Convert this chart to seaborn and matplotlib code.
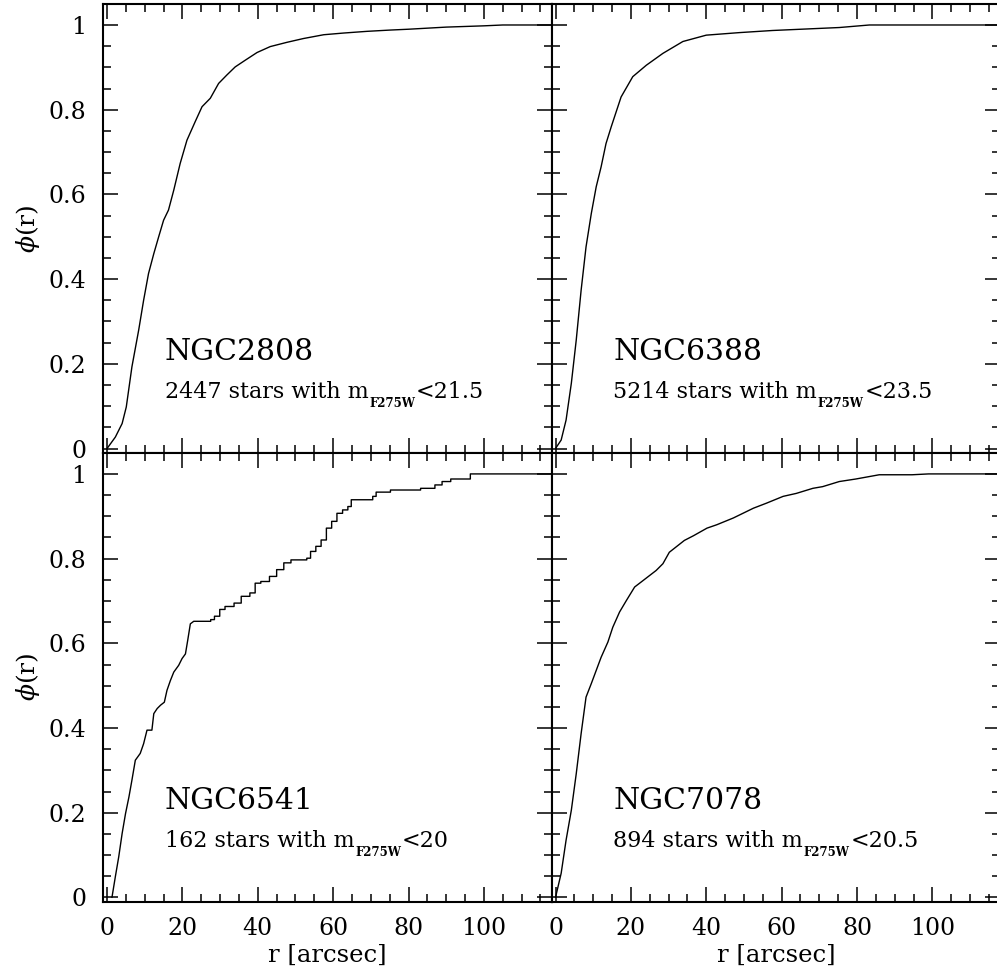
import matplotlib
matplotlib.use("Agg")
import matplotlib.pyplot as plt
from matplotlib.ticker import MultipleLocator, FuncFormatter
import seaborn as sns

# cumulative radial distributions
r_2808 = [0, 2.2, 4.0, 5.1, 6.6, 8.4, 9.7, 11.0, 12.4, 13.7, 15.0, 16.3, 17.7, 19.4,
          21.2, 23.4, 25.2, 27.4, 29.6, 31.8, 34.0, 36.7, 39.8, 43.3, 47.7, 52.1,
          57.5, 62.8, 69.0, 75.1, 80, 90, 100, 105, 118]
phi_2808 = [0, 0.027, 0.059, 0.098, 0.193, 0.28, 0.35, 0.413, 0.46, 0.50, 0.539, 0.563,
            0.61, 0.673, 0.728, 0.772, 0.807, 0.827, 0.862, 0.882, 0.901, 0.917, 0.935,
            0.949, 0.959, 0.968, 0.977, 0.981, 0.985, 0.988, 0.99, 0.995, 0.998, 1.0, 1.0]

r_6388 = [0, 1.5, 2.8, 4.2, 5.5, 6.8, 8.1, 9.5, 10.8, 12.1, 13.4, 14.8, 17.4, 20.5,
          24.1, 28.5, 33.8, 40.0, 48.8, 57.6, 75.3, 83.3, 118]
phi_6388 = [0, 0.02, 0.067, 0.154, 0.256, 0.374, 0.476, 0.555, 0.618, 0.665, 0.72, 0.76,
            0.83, 0.878, 0.905, 0.933, 0.961, 0.976, 0.982, 0.987, 0.994, 1.0, 1.0]

# NGC6541: steep inner part read as a line, outer part as single-star steps
r_6541_in = [1.3, 2.2, 3.1, 4.0, 4.9, 5.8, 6.6, 7.5, 8.8, 9.7, 10.6, 11.9, 12.4, 13.3,
             14.2, 15.2, 15.9, 16.8, 17.7, 19.0, 19.9, 20.8, 21.4, 22.1, 23.0]
phi_6541_in = [0, 0.049, 0.096, 0.151, 0.198, 0.237, 0.277, 0.324, 0.34, 0.363, 0.395,
               0.395, 0.434, 0.446, 0.454, 0.461, 0.489, 0.512, 0.532, 0.548, 0.564,
               0.575, 0.607, 0.646, 0.652]
r_6541_step = [27.5, 28.5, 29.9, 31.3, 33.7, 35.6, 37.9, 39.3, 40.8, 43.1, 45.0, 46.9,
               48.8, 53.0, 54.0, 55.4, 56.8, 58.2, 59.6, 61.0, 62.5, 63.9, 64.8, 70.5,
               71.4, 75.2, 83.2, 87.0, 88.9, 91.2, 96.4]
phi_6541_step = [0.656, 0.664, 0.68, 0.687, 0.695, 0.711, 0.719, 0.742, 0.746, 0.758,
                 0.774, 0.79, 0.797, 0.801, 0.817, 0.829, 0.844, 0.872, 0.888, 0.907,
                 0.915, 0.923, 0.939, 0.947, 0.957, 0.962, 0.966, 0.974, 0.982, 0.988, 1.0]

r_7078 = [0, 1.5, 2.8, 4.2, 5.5, 6.8, 8.1, 9.5, 10.8, 12.1, 13.9, 15.2, 17.0, 18.8, 21.0,
          23.2, 26.7, 28.5, 30.2, 34.2, 36.6, 40.2, 42.8, 47.2, 52.5, 56.0, 60.4, 63.9,
          68.3, 70.9, 75.3, 79.7, 85.9, 94.6, 99.0, 118]
phi_7078 = [0, 0.057, 0.135, 0.206, 0.292, 0.387, 0.473, 0.505, 0.536, 0.567, 0.603,
            0.638, 0.674, 0.701, 0.733, 0.748, 0.772, 0.788, 0.815, 0.843, 0.854, 0.872,
            0.88, 0.896, 0.919, 0.931, 0.947, 0.954, 0.966, 0.97, 0.982, 0.988, 0.998,
            0.998, 1.0, 1.0]

names = ["NGC2808", "NGC6388", "NGC6541", "NGC7078"]
n_stars = [2447, 5214, 162, 894]
mag_cut = ["21.5", "23.5", "20", "20.5"]

# outer part of NGC6541 as a staircase
r_6541 = list(r_6541_in)
phi_6541 = list(phi_6541_in)
for rs, ps in zip(r_6541_step, phi_6541_step):
    r_6541 += [rs, rs]
    phi_6541 += [phi_6541[-1], ps]
r_6541.append(118)
phi_6541.append(1.0)

curves = [(r_2808, phi_2808), (r_6388, phi_6388), (r_6541, phi_6541), (r_7078, phi_7078)]

sns.set_style("ticks")
plt.rcParams["font.family"] = ["DejaVu Serif"]
plt.rcParams["mathtext.fontset"] = "dejavuserif"
plt.rcParams["text.color"] = "black"
plt.rcParams["axes.labelcolor"] = "black"

fig = plt.figure(figsize=(9.97, 9.77), dpi=100)
lefts = [0.1036, 0.5534]
bottoms = [0.5366, 0.0771]
w, h = 0.4498, 0.4595

fmt = FuncFormatter(lambda v, p: "{:g}".format(round(v, 2)))

for i in range(4):
    row, col = divmod(i, 2)
    ax = fig.add_axes([lefts[col], bottoms[row], w, h])
    x, y = curves[i]
    sns.lineplot(x=x, y=y, ax=ax, color="black", linewidth=1.0, estimator=None, sort=False)
    ax.set_xlim(-1, 118)
    ax.set_ylim(-0.01, 1.05)

    ax.xaxis.set_major_locator(MultipleLocator(20))
    ax.xaxis.set_minor_locator(MultipleLocator(5))
    ax.yaxis.set_major_locator(MultipleLocator(0.2))
    ax.yaxis.set_minor_locator(MultipleLocator(0.05))
    ax.xaxis.set_major_formatter(fmt)
    ax.yaxis.set_major_formatter(fmt)
    ax.tick_params(which="both", direction="in", top=True, right=True, width=1.1,
                   colors="black", labelcolor="black")
    ax.tick_params(which="major", length=11)
    ax.tick_params(which="minor", length=5.5)
    ax.tick_params(axis="y", labelsize=17, pad=12)
    ax.tick_params(axis="x", labelsize=17, pad=11)
    for s in ax.spines.values():
        s.set_linewidth(1.5)
        s.set_color("black")

    if col == 0:
        ax.set_ylabel(r"$\phi$(r)", fontsize=18, labelpad=5)
    else:
        ax.tick_params(labelleft=False)
        ax.set_ylabel("")
    if row == 1:
        ax.set_xlabel("r [arcsec]", fontsize=17.5, labelpad=3)
    else:
        ax.tick_params(labelbottom=False)
        ax.set_xlabel("")

    ax.text(0.137, 0.206, names[i], transform=ax.transAxes, fontsize=21.5, va="baseline")
    t1 = ax.text(0.137, 0.122, "{} stars with m".format(n_stars[i]), transform=ax.transAxes,
                 fontsize=16, va="baseline")
    t2 = ax.annotate("F275W", xy=(1, 0), xycoords=t1, xytext=(0.5, 4.5),
                     textcoords="offset points", fontsize=8.5, fontweight="bold", va="top")
    ax.annotate("<" + mag_cut[i], xy=(1, 0), xycoords=(t2, t1), xytext=(0.5, 0),
                textcoords="offset points", fontsize=16, va="bottom")

fig.savefig("out.png", dpi=100)
